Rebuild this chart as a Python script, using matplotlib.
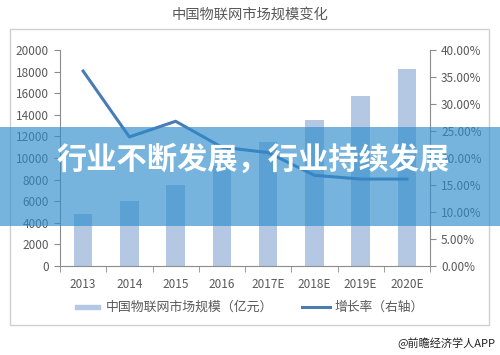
import matplotlib.pyplot as plt
import matplotlib.patches as mpatches
import matplotlib.ticker as mticker
import numpy as np

plt.rcParams['font.family'] = ['Noto Sans CJK SC', 'DejaVu Sans']

years = ['2013', '2014', '2015', '2016', '2017E', '2018E', '2019E', '2020E']
market_size = [4800, 6000, 7500, 9300, 11500, 13500, 15700, 18200]
growth_rate = [36.1, 23.9, 26.8, 22.0, 21.0, 16.8, 16.1, 16.1]

bar_color = '#b4c8e4'
line_color = '#4a7cb4'
text_color = '#595959'
axis_color = '#8c8c8c'

fig = plt.figure(figsize=(5, 3.55), dpi=100)

# outer frame like the excel chart border
frame = mpatches.Rectangle((10 / 500, 1 - 325 / 355), 479 / 500, 296 / 355,
                           transform=fig.transFigure, fill=False,
                           edgecolor='#d0d0d0', linewidth=1)
fig.add_artist(frame)

ax = fig.add_axes([60 / 500, 1 - 266 / 355, 370 / 500, 216 / 355])
x = np.arange(len(years))
ax.bar(x, market_size, width=0.4, color=bar_color, zorder=2)
ax.set_xlim(-0.5, len(years) - 0.5)
ax.set_ylim(0, 20000)
ax.set_yticks(np.arange(0, 20001, 2000))
ax.set_xticks(x)
ax.set_xticklabels(years)
ax.xaxis.set_minor_locator(mticker.FixedLocator(np.arange(-0.5, len(years), 1)))
ax.tick_params(axis='x', which='major', length=0, pad=9, labelsize=8.5, labelcolor=text_color)
ax.tick_params(axis='x', which='minor', length=4, color=axis_color, direction='out')
ax.tick_params(axis='y', length=4, color=axis_color, labelsize=8.5, labelcolor=text_color, pad=4)
for s in ['top', 'right']:
    ax.spines[s].set_visible(False)
ax.spines['left'].set_color(axis_color)
ax.spines['bottom'].set_color(axis_color)

ax2 = ax.twinx()
ax2.plot(x, growth_rate, color=line_color, linewidth=2.2, zorder=3)
ax2.set_ylim(0, 40)
ax2.set_yticks(np.arange(0, 41, 5))
ax2.yaxis.set_major_formatter(mticker.FuncFormatter(lambda v, p: '%.2f%%' % v))
ax2.tick_params(axis='y', length=4, color=axis_color, labelsize=8.5, labelcolor=text_color, pad=4)
for s in ['top', 'left', 'bottom']:
    ax2.spines[s].set_visible(False)
ax2.spines['right'].set_color(axis_color)

fig.text(0.5, 1 - 15 / 355, '中国物联网市场规模变化', ha='center', va='center',
         fontsize=10.3, color=text_color)

# legend
fig.add_artist(mpatches.Rectangle((75 / 500, 1 - 309 / 355), 25 / 500, 4 / 355,
                                  transform=fig.transFigure, color=bar_color))
fig.text(106 / 500, 1 - 307 / 355, '中国物联网市场规模（亿元）', ha='left', va='center',
         fontsize=9.3, color=text_color)
fig.add_artist(plt.Line2D([302 / 500, 330 / 500], [1 - 307 / 355, 1 - 307 / 355],
                          transform=fig.transFigure, color=line_color, linewidth=2.2))
fig.text(334 / 500, 1 - 307 / 355, '增长率（右轴）', ha='left', va='center',
         fontsize=9.2, color=text_color)

# banner overlay
fig.add_artist(mpatches.Rectangle((0, 1 - 226 / 355), 1, 99 / 355,
                                  transform=fig.transFigure, facecolor=(0.18, 0.55, 0.8),
                                  alpha=0.65, edgecolor='none', zorder=10))
fig.text(57 / 500, 1 - 160 / 355, '行业不断发展，行业持续发展', ha='left', va='center',
         fontsize=21.8, fontweight='bold', color='white', zorder=11)

fig.text(495 / 500, 1 - 343 / 355, '@前瞻经济学人APP', ha='right', va='center',
         fontsize=8, color='#222222')

fig.savefig('out.png', dpi=100)
